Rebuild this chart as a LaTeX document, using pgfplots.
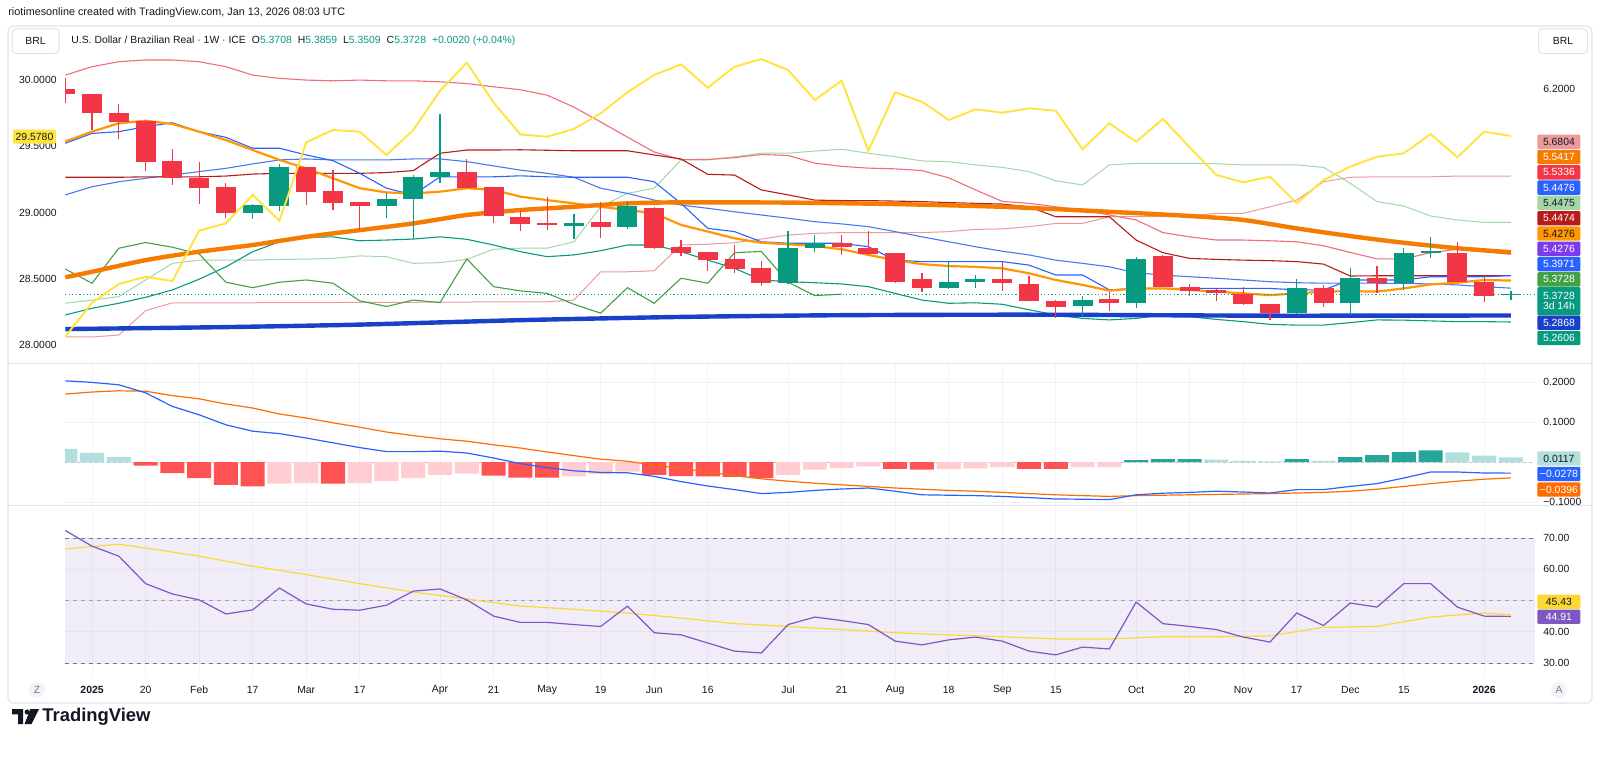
\documentclass[border=0pt]{standalone}
\usepackage{fontspec}
\setmainfont{Liberation Sans}
\usepackage{pgfplots}
\pgfplotsset{compat=1.18}
\usepackage{pgfplotstable}
\usepgfplotslibrary{fillbetween}

\definecolor{cred}{RGB}{242,54,69}
\definecolor{cgreen}{RGB}{8,153,129}
\definecolor{gridc}{RGB}{240,243,250}
\definecolor{framec}{RGB}{224,227,235}
\definecolor{txt}{RGB}{19,23,34}
\definecolor{bbup}{RGB}{240,110,120}
\definecolor{bbmid}{RGB}{75,120,240}
\definecolor{bblow}{RGB}{8,153,129}
\definecolor{tenk}{RGB}{41,98,255}
\definecolor{kij}{RGB}{183,28,28}
\definecolor{spanA}{RGB}{165,214,167}
\definecolor{spanB}{RGB}{239,154,154}
\definecolor{chik}{RGB}{67,160,71}
\definecolor{emac}{RGB}{255,152,0}
\definecolor{lmac}{RGB}{245,124,0}
\definecolor{vlmac}{RGB}{24,64,200}
\definecolor{yelc}{RGB}{255,228,60}
\definecolor{macdb}{RGB}{41,98,255}
\definecolor{macdo}{RGB}{255,109,0}
\definecolor{hdt}{RGB}{38,166,154}
\definecolor{hlt}{RGB}{178,223,219}
\definecolor{hdr}{RGB}{255,82,82}
\definecolor{hlr}{RGB}{255,205,210}
\definecolor{rsip}{RGB}{126,87,194}
\definecolor{rsiy}{RGB}{253,216,53}
\definecolor{dashc}{RGB}{120,123,134}
\definecolor{purp}{RGB}{124,58,237}

\newcommand{\tvf}{\fontsize{5.2}{6}\selectfont}
\newcommand{\tvh}{\fontsize{5.2}{6}\selectfont}
\newcommand{\tvhh}{\fontsize{5.4}{6}\selectfont}

% ---------- candles ----------
\pgfplotstableread{
k o h l c
-1 6.199 6.245 6.145 6.179
0 6.179 6.180 6.035 6.102
1 6.105 6.140 6.000 6.069
2 6.071 6.075 5.871 5.907
3 5.910 5.957 5.813 5.840
4 5.840 5.907 5.736 5.802
5 5.805 5.820 5.680 5.701
8 5.884 5.886 5.734 5.784
9 5.790 5.874 5.712 5.742
10 5.743 5.745 5.631 5.730
14 5.864 5.918 5.800 5.802
15 5.805 5.807 5.659 5.688
16 5.685 5.710 5.627 5.656
17 5.659 5.763 5.632 5.653
19 5.663 5.745 5.601 5.645
21 5.722 5.725 5.555 5.558
22 5.565 5.593 5.528 5.540
23 5.542 5.544 5.468 5.511
24 5.513 5.573 5.459 5.474
25 5.477 5.507 5.407 5.417
28 5.581 5.610 5.532 5.562
29 5.558 5.627 5.530 5.535
30 5.538 5.540 5.418 5.421
31 5.433 5.457 5.383 5.399
34 5.433 5.504 5.386 5.417
35 5.413 5.446 5.344 5.346
36 5.346 5.348 5.275 5.323
38 5.352 5.380 5.304 5.339
40 5.527 5.530 5.400 5.403
41 5.403 5.413 5.364 5.386
42 5.390 5.399 5.346 5.376
43 5.373 5.403 5.330 5.332
44 5.332 5.334 5.269 5.296
46 5.399 5.410 5.323 5.336
48 5.437 5.487 5.376 5.417
51 5.540 5.585 5.420 5.421
52 5.423 5.450 5.340 5.367
}\redc

\pgfplotstableread{
k o h l c
6 5.701 5.735 5.676 5.733
7 5.728 5.897 5.709 5.884
11 5.730 5.782 5.681 5.757
12 5.757 5.853 5.595 5.844
13 5.844 6.098 5.820 5.864
18 5.649 5.698 5.597 5.661
20 5.645 5.743 5.635 5.730
26 5.417 5.627 5.415 5.558
27 5.558 5.610 5.542 5.581
32 5.397 5.504 5.395 5.421
33 5.421 5.452 5.399 5.432
37 5.327 5.367 5.280 5.349
39 5.336 5.524 5.316 5.515
45 5.296 5.433 5.294 5.399
47 5.336 5.477 5.289 5.437
49 5.419 5.558 5.390 5.540
50 5.540 5.605 5.517 5.545
53 5.3708 5.3859 5.3509 5.3728
}\greenc

% ---------- indicators on price pane ----------
\pgfplotstableread{
k bbu bbm bbl tenkan kijun spa spb ema
-1 6.256 5.773 5.289 5.981 5.844 5.336 5.201 5.988
0 6.290 5.806 5.316 6.021 5.844 5.349 5.200 6.028
1 6.310 5.826 5.336 6.028 5.844 5.363 5.208 6.062
2 6.317 5.840 5.360 6.048 5.846 5.430 5.306 6.072
3 6.317 5.853 5.390 6.064 5.846 5.497 5.338 6.059
4 6.310 5.867 5.433 6.028 5.846 5.510 5.338 6.028
5 6.290 5.880 5.483 6.005 5.849 5.510 5.338 5.994
6 6.256 5.898 5.544 5.961 5.857 5.510 5.338 5.954
7 6.243 5.914 5.584 5.961 5.860 5.513 5.339 5.914
8 6.236 5.918 5.602 5.934 5.860 5.514 5.339 5.880
9 6.233 5.914 5.604 5.911 5.860 5.517 5.339 5.840
10 6.236 5.914 5.588 5.860 5.860 5.527 5.340 5.800
11 6.233 5.914 5.591 5.800 5.863 5.524 5.340 5.783
12 6.233 5.918 5.595 5.773 5.871 5.497 5.340 5.779
13 6.229 5.918 5.604 5.846 5.941 5.500 5.341 5.786
14 6.222 5.907 5.594 5.846 5.954 5.513 5.341 5.800
15 6.209 5.890 5.571 5.846 5.954 5.554 5.342 5.793
16 6.197 5.873 5.544 5.850 5.955 5.558 5.342 5.766
17 6.175 5.860 5.524 5.846 5.953 5.558 5.342 5.752
18 6.127 5.844 5.531 5.844 5.951 5.584 5.349 5.739
19 6.067 5.800 5.548 5.844 5.951 5.725 5.463 5.725
20 6.006 5.779 5.571 5.844 5.951 5.779 5.463 5.712
21 5.946 5.752 5.571 5.826 5.934 5.800 5.467 5.699
22 5.915 5.732 5.544 5.739 5.918 5.914 5.571 5.652
23 5.916 5.719 5.510 5.638 5.856 5.914 5.574 5.625
24 5.923 5.705 5.477 5.625 5.853 5.927 5.580 5.598
25 5.936 5.692 5.430 5.584 5.793 5.941 5.595 5.580
26 5.932 5.679 5.423 5.578 5.773 5.941 5.611 5.574
27 5.901 5.665 5.419 5.578 5.752 5.950 5.618 5.567
28 5.888 5.656 5.414 5.578 5.750 5.957 5.621 5.554
29 5.881 5.645 5.403 5.564 5.750 5.941 5.621 5.531
30 5.878 5.625 5.376 5.510 5.748 5.927 5.621 5.510
31 5.871 5.604 5.349 5.504 5.746 5.910 5.621 5.494
32 5.842 5.584 5.336 5.504 5.742 5.907 5.625 5.486
33 5.793 5.564 5.338 5.504 5.739 5.894 5.634 5.483
34 5.747 5.546 5.332 5.504 5.736 5.884 5.636 5.477
35 5.739 5.531 5.310 5.490 5.725 5.867 5.645 5.457
36 5.725 5.510 5.289 5.450 5.685 5.830 5.658 5.430
37 5.712 5.497 5.275 5.450 5.685 5.813 5.658 5.410
38 5.692 5.483 5.269 5.390 5.685 5.894 5.685 5.387
39 5.672 5.459 5.275 5.396 5.591 5.900 5.685 5.396
40 5.621 5.450 5.289 5.396 5.540 5.900 5.685 5.396
41 5.604 5.443 5.282 5.396 5.517 5.900 5.688 5.390
42 5.591 5.437 5.271 5.396 5.513 5.899 5.699 5.383
43 5.591 5.430 5.262 5.396 5.510 5.894 5.699 5.376
44 5.588 5.423 5.251 5.396 5.508 5.894 5.725 5.369
45 5.584 5.419 5.248 5.390 5.504 5.894 5.752 5.376
46 5.568 5.417 5.248 5.390 5.494 5.884 5.826 5.383
47 5.541 5.417 5.258 5.430 5.446 5.820 5.844 5.385
48 5.515 5.417 5.269 5.430 5.447 5.746 5.846 5.383
49 5.515 5.416 5.268 5.430 5.447 5.728 5.846 5.396
50 5.540 5.414 5.265 5.443 5.447 5.688 5.846 5.412
51 5.554 5.410 5.262 5.443 5.447 5.672 5.849 5.419
52 5.544 5.403 5.262 5.443 5.447 5.662 5.849 5.430
53 5.5336 5.3971 5.2606 5.4476 5.4474 5.662 5.849 5.4276
}\ind

\pgfplotstableread{
k v
-1 5.474
0 5.417
1 5.558
2 5.581
3 5.562
4 5.535
5 5.421
6 5.399
7 5.421
8 5.430
9 5.417
10 5.346
11 5.323
12 5.349
13 5.339
14 5.515
15 5.403
16 5.386
17 5.376
18 5.332
19 5.296
20 5.399
21 5.336
22 5.437
23 5.417
24 5.540
25 5.545
26 5.421
27 5.367
28 5.3728
}\chikt

\pgfplotstableread{
k v
-1 5.441
0 5.463
2 5.510
4 5.544
6 5.571
8 5.604
10 5.631
12 5.658
14 5.692
16 5.712
18 5.725
20 5.739
22 5.743
26 5.742
30 5.736
34 5.725
38 5.705
41 5.688
43 5.672
45 5.638
47 5.607
49 5.580
51 5.558
53 5.5417
}\lmat

\pgfplotstableread{
k v
-1 5.232
5 5.240
10 5.250
16 5.268
22 5.281
28 5.288
35 5.290
44 5.286
53 5.2868
}\vlmat

\pgfplotstableread{
k v
-1 28.063
0 28.319
1 28.460
2 28.515
3 28.483
4 28.863
5 28.918
6 29.132
7 28.938
8 29.530
9 29.623
10 29.610
11 29.434
12 29.623
13 29.919
14 30.131
15 29.829
16 29.589
17 29.572
18 29.630
19 29.749
20 29.907
21 30.038
22 30.118
23 29.942
24 30.100
25 30.158
26 30.075
27 29.849
28 29.995
29 29.466
30 29.907
31 29.836
32 29.698
33 29.779
34 29.753
35 29.786
36 29.768
37 29.477
38 29.673
39 29.534
40 29.706
41 29.492
42 29.283
43 29.228
44 29.270
45 29.069
46 29.245
47 29.346
48 29.421
49 29.447
50 29.592
51 29.417
52 29.610
53 29.578
}\yelt

% ---------- MACD ----------
\pgfplotstableread{
k macd sig
-1 0.203 0.170
0 0.199 0.175
1 0.193 0.178
2 0.173 0.177
3 0.139 0.166
4 0.118 0.158
5 0.093 0.145
6 0.077 0.135
7 0.071 0.120
8 0.060 0.110
9 0.048 0.098
10 0.036 0.087
11 0.026 0.075
12 0.026 0.066
13 0.027 0.058
14 0.0225 0.052
15 0.010 0.043
16 -0.004 0.035
17 -0.014 0.025
18 -0.022 0.016
19 -0.026 0.007
20 -0.027 0.002
21 -0.036 -0.008
22 -0.049 -0.016
23 -0.060 -0.025
24 -0.069 -0.034
25 -0.079 -0.042
26 -0.076 -0.048
27 -0.071 -0.053
28 -0.0675 -0.057
29 -0.065 -0.061
30 -0.073 -0.065
31 -0.082 -0.068
32 -0.083 -0.071
33 -0.084 -0.073
34 -0.086 -0.076
35 -0.089 -0.079
36 -0.0925 -0.082
37 -0.093 -0.084
38 -0.094 -0.086
39 -0.082 -0.084
40 -0.078 -0.083
41 -0.076 -0.082
42 -0.073 -0.081
43 -0.075 -0.080
44 -0.0775 -0.079
45 -0.069 -0.0775
46 -0.069 -0.076
47 -0.061 -0.073
48 -0.054 -0.068
49 -0.040 -0.061
50 -0.025 -0.054
51 -0.025 -0.048
52 -0.0275 -0.043
53 -0.0278 -0.0396
}\macdt

\pgfplotstableread{
k v
-1 0.033
0 0.023
1 0.013
42 0.006
43 0.003
44 0.0015
46 0.003
51 0.024
52 0.016
53 0.0117
}\hLT
\pgfplotstableread{
k v
39 0.005
40 0.007
41 0.007
45 0.007
47 0.012
48 0.017
49 0.025
50 0.029
}\hDT
\pgfplotstableread{
k v
2 -0.009
3 -0.028
4 -0.040
5 -0.057
6 -0.061
9 -0.054
15 -0.034
16 -0.039
17 -0.039
21 -0.032
22 -0.035
23 -0.036
24 -0.037
25 -0.040
30 -0.017
31 -0.019
35 -0.017
36 -0.017
}\hDR
\pgfplotstableread{
k v
7 -0.054
8 -0.053
10 -0.053
11 -0.048
12 -0.040
13 -0.032
14 -0.029
18 -0.036
19 -0.030
20 -0.024
26 -0.032
27 -0.019
28 -0.015
29 -0.011
32 -0.018
33 -0.016
34 -0.013
37 -0.013
38 -0.013
}\hLR

% ---------- RSI ----------
\pgfplotstableread{
k v
-1 72.4
0 67.4
1 64.2
2 55.4
3 52.1
4 50.2
5 45.7
6 47.0
7 54.0
8 48.9
9 47.2
10 46.9
11 48.5
12 53.0
13 53.7
14 50.2
15 45.0
16 43.0
17 43.0
18 42.3
19 41.7
20 48.2
21 39.7
22 39.0
23 36.4
24 33.8
25 33.2
26 42.3
27 44.7
28 43.6
29 42.3
30 37.0
31 35.8
32 37.4
33 38.3
34 37.0
35 33.8
36 32.6
37 35.1
38 34.5
39 49.5
40 42.6
41 41.7
42 40.7
43 38.3
44 36.7
45 46.0
46 42.0
47 49.2
48 47.9
49 55.4
50 55.4
51 47.9
52 45.0
53 44.91
}\rsit

\pgfplotstableread{
k v
-1 66.5
1 68.0
2 66.8
4 64.2
6 61.0
8 58.3
10 55.4
12 52.7
14 50.5
16 48.2
18 47.2
20 46.0
22 44.4
24 42.6
26 41.7
28 40.7
30 39.7
32 39.0
34 38.4
36 37.7
38 37.7
40 38.4
42 38.4
44 38.7
46 41.4
48 41.7
50 44.7
52 46.0
53 45.43
}\rsimat

\pgfplotsset{
  pane/.style={scale only axis, width=735pt, xmin=-1.01, xmax=53.9,
    anchor=north west,
    axis line style={draw=none}, major tick length=0pt,
    xtick={0,2,4,6,8,10,13,15,17,19,21,23,26,28,30,32,34,36,39,41,43,45,47,49,52},
    xmajorgrids, ymajorgrids, grid style={gridc, line width=0.5pt},
    yticklabel pos=right,
    yticklabel style={font=\tvf, text=txt, anchor=west, inner sep=0pt, xshift=4pt},
    /pgf/number format/assume math mode=true},
  wick/.style={draw=none, mark=none, error bars/.cd, y dir=both, y explicit, error mark=none,
    error bar style={draw=#1, line width=0.6pt}},
  body/.style={draw=none, mark=none, error bars/.cd, y dir=both, y explicit, error mark=none,
    error bar style={draw=#1, line width=10pt}},
}

\newcommand{\rtag}[4]{\node[fill=#2, text=#3, font=\tvf, inner sep=0pt, minimum width=21.5pt, minimum height=7.2pt, anchor=west, rounded corners=0.6pt] at (768.5pt,{-0.5pt*#1}) {#4};}

\begin{document}
\begin{tikzpicture}
\path[fill=white] (0,0) rectangle (800pt,-378pt);

% ===== price pane =====
\begin{axis}[pane, at={(32.5pt,-13.5pt)}, height=168pt,
  ymin=5.0952, ymax=6.45, ytick={5.2,5.4,5.6,5.8,6.0,6.2},
  yticklabels={,,,,,6.2000},
  xticklabels={}]
  % Bollinger fill
  \addplot[draw=none, name path=bu] table[x=k,y=bbu]{\ind};
  \addplot[draw=none, name path=bl] table[x=k,y=bbl]{\ind};
  \addplot[fill=tenk, fill opacity=0.06] fill between[of=bu and bl];
  % cloud
  \addplot[draw=none, name path=sa] table[x=k,y=spa]{\ind};
  \addplot[draw=none, name path=sb] table[x=k,y=spb]{\ind};
  \addplot fill between[of=sa and sb, split,
     every segment no 0/.style={fill=chik, fill opacity=0.13},
     every segment no 1/.style={fill=cred, fill opacity=0.10}];
  \addplot[spanA, line width=0.5pt] table[x=k,y=spa]{\ind};
  \addplot[spanB, line width=0.5pt] table[x=k,y=spb]{\ind};
  % lines
  \addplot[bbup, line width=0.55pt] table[x=k,y=bbu]{\ind};
  \addplot[bbmid, line width=0.55pt] table[x=k,y=bbm]{\ind};
  \addplot[bblow, line width=0.55pt] table[x=k,y=bbl]{\ind};
  \addplot[kij, line width=0.55pt] table[x=k,y=kijun]{\ind};
  \addplot[tenk, line width=0.55pt] table[x=k,y=tenkan]{\ind};
  \addplot[chik, line width=0.55pt] table[x=k,y=v]{\chikt};
  \addplot[emac, line width=1.1pt] table[x=k,y=ema]{\ind};
  \addplot[lmac, line width=2.2pt, smooth, tension=0.4] table[x=k,y=v]{\lmat};
  \addplot[vlmac, line width=2.2pt, smooth, tension=0.4] table[x=k,y=v]{\vlmat};
  % last price line
  \addplot[cgreen, line width=0.5pt, dash pattern=on 0.6pt off 1.2pt] coordinates {(-1.01,5.3728) (53.9,5.3728)};
  % candles: wicks
  \addplot[wick=cred]
    table[x=k, y expr={(\thisrow{h}+\thisrow{l})/2}, y error expr={(\thisrow{h}-\thisrow{l})/2}]{\redc};
  \addplot[wick=cgreen]
    table[x=k, y expr={(\thisrow{h}+\thisrow{l})/2}, y error expr={(\thisrow{h}-\thisrow{l})/2}]{\greenc};
  % candles: bodies
  \addplot[body=cred]
    table[x=k, y expr={(\thisrow{o}+\thisrow{c})/2}, y error expr={max(abs(\thisrow{o}-\thisrow{c})/2,0.0016)}]{\redc};
  \addplot[body=cgreen]
    table[x=k, y expr={(\thisrow{o}+\thisrow{c})/2}, y error expr={max(abs(\thisrow{o}-\thisrow{c})/2,0.0016)}]{\greenc};
\end{axis}

% ===== left scale overlay (yellow series) =====
\begin{axis}[scale only axis, width=735pt, height=168pt, at={(32.5pt,-13.5pt)}, anchor=north west,
  xmin=-1.01, xmax=53.9, ymin=27.864, ymax=30.4,
  axis line style={draw=none}, major tick length=0pt, xtick=\empty,
  ytick={28,28.5,29,29.5,30}, yticklabel pos=left,
  yticklabel style={font=\tvf, text=txt, anchor=east, inner sep=0pt, xshift=-4pt,
    /pgf/number format/fixed, /pgf/number format/fixed zerofill, /pgf/number format/precision=4},
  /pgf/number format/assume math mode=true]
  \addplot[yelc, line width=0.95pt] table[x=k,y=v]{\yelt};
\end{axis}

% ===== MACD pane =====
\begin{axis}[pane, at={(32.5pt,-182pt)}, height=70.5pt,
  ymin=-0.1075, ymax=0.245, ytick={-0.1,0,0.1,0.2},
  yticklabels={−0.1000,,0.1000,0.2000}, xticklabels={}]
  \addplot[dashc!45, line width=0.4pt, dash pattern=on 1.5pt off 1.5pt] coordinates {(-1.01,0) (53.9,0)};
  \addplot[ybar, bar width=0.9, bar shift=0pt, fill=hlt, draw=none] table[x=k,y=v]{\hLT};
  \addplot[ybar, bar width=0.9, bar shift=0pt, fill=hdt, draw=none] table[x=k,y=v]{\hDT};
  \addplot[ybar, bar width=0.9, bar shift=0pt, fill=hdr, draw=none] table[x=k,y=v]{\hDR};
  \addplot[ybar, bar width=0.9, bar shift=0pt, fill=hlr, draw=none] table[x=k,y=v]{\hLR};
  \addplot[macdo, line width=0.6pt] table[x=k,y=sig]{\macdt};
  \addplot[macdb, line width=0.6pt] table[x=k,y=macd]{\macdt};
\end{axis}

% ===== RSI pane =====
\begin{axis}[pane, at={(32.5pt,-253pt)}, height=85.5pt,
  ymin=25.52, ymax=80.24, ytick={30,40,50,60,70},
  yticklabels={30.00,40.00,,60.00,70.00},
  xticklabels={\textbf{2025},20,Feb,17,Mar,17,Apr,21,May,19,Jun,16,Jul,21,Aug,18,Sep,15,Oct,20,Nov,17,Dec,15,\textbf{2026}},
  xticklabel style={font=\tvf, text=txt, anchor=center, inner sep=0pt, yshift=-6.5pt}]
  \addplot[draw=none, fill=rsip, fill opacity=0.1] coordinates {(-1.01,30) (53.9,30) (53.9,70) (-1.01,70) (-1.01,30)};
  \addplot[dashc, line width=0.4pt, dash pattern=on 2pt off 2pt] coordinates {(-1.01,70) (53.9,70)};
  \addplot[dashc!70, line width=0.4pt, dash pattern=on 2pt off 2pt] coordinates {(-1.01,50) (53.9,50)};
  \addplot[dashc, line width=0.4pt, dash pattern=on 2pt off 2pt] coordinates {(-1.01,30) (53.9,30)};
  \addplot[rsiy, line width=0.6pt] table[x=k,y=v]{\rsimat};
  \addplot[rsip, line width=0.6pt] table[x=k,y=v]{\rsit};
\end{axis}

% ===== frame, separators =====
\draw[framec, line width=0.6pt, rounded corners=3pt] (4pt,-13pt) rectangle (796pt,-351.5pt);
\draw[framec, line width=0.6pt] (4pt,-181.75pt) -- (796pt,-181.75pt);
\draw[framec, line width=0.6pt] (4pt,-252.75pt) -- (796pt,-252.75pt);

% ===== header texts =====
\node[anchor=west, font=\tvhh, text=txt, inner sep=0pt] at (4pt,-6.5pt) {riotimesonline created with TradingView.com, Jan 13, 2026 08:03 UTC};
\node[anchor=west, font=\tvh, text=txt, inner sep=0pt] at (35.5pt,-20.5pt) {U.S. Dollar / Brazilian Real · 1W · ICE\hspace{3pt}O\textcolor{cgreen}{5.3708}\hspace{3pt}H\textcolor{cgreen}{5.3859}\hspace{3pt}L\textcolor{cgreen}{5.3509}\hspace{3pt}C\textcolor{cgreen}{5.3728}\hspace{3pt}\textcolor{cgreen}{+0.0020 (+0.04\%)}};
\node[draw=framec, fill=white, rounded corners=2pt, line width=0.5pt, minimum width=23.5pt, minimum height=12.5pt, inner sep=0pt, font=\tvh, text=txt] at (17.75pt,-20.5pt) {BRL};
\node[draw=framec, fill=white, rounded corners=2pt, line width=0.5pt, minimum width=24.5pt, minimum height=12.5pt, inner sep=0pt, font=\tvh, text=txt] at (781.5pt,-20.5pt) {BRL};

% ===== right tags =====
\rtag{141.7}{spanB}{txt}{5.6804}
\rtag{157.0}{lmac}{white}{5.5417}
\rtag{172.3}{cred}{white}{5.5336}
\rtag{187.6}{tenk}{white}{5.4476}
\rtag{202.9}{spanA}{txt}{5.4475}
\rtag{218.2}{kij}{white}{5.4474}
\rtag{233.5}{emac}{txt}{5.4276}
\rtag{248.8}{purp}{white}{5.4276}
\rtag{264.1}{tenk}{white}{5.3971}
\rtag{279.4}{chik}{white}{5.3728}
\node[fill=cgreen, text=white, font=\tvf, inner sep=0pt, minimum width=21.5pt, minimum height=14.2pt, anchor=west, rounded corners=0.6pt, align=center] at (768.5pt,-150.6pt) {5.3728\\[-0.8pt]3d 14h};
\rtag{322.7}{vlmac}{white}{5.2868}
\rtag{338.0}{cgreen}{white}{5.2606}
% MACD tags
\rtag{458.5}{hlt}{txt}{0.0117}
\rtag{474.0}{macdb}{white}{−0.0278}
\rtag{489.5}{macdo}{white}{−0.0396}
% RSI tags
\rtag{601.7}{rsiy}{txt}{45.43}
\rtag{616.7}{rsip}{white}{44.91}
% left yellow tag
\node[fill=yelc, text=txt, font=\tvf, inner sep=0pt, minimum width=21.5pt, minimum height=7pt, rounded corners=0.6pt] at (17.25pt,-68.3pt) {29.5780};

% ===== bottom controls =====
\node[circle, fill=gridc, minimum size=8pt, inner sep=0pt, font=\tvf, text=dashc] at (18.5pt,-345pt) {Z};
\node[circle, fill=gridc, minimum size=8pt, inner sep=0pt, font=\tvf, text=dashc] at (779.5pt,-345pt) {A};

% ===== TradingView logo =====
\fill[txt] (6pt,-354.5pt) -- (11.5pt,-354.5pt) -- (11.5pt,-362pt) -- (9pt,-362pt) -- (9pt,-357.2pt) -- (6pt,-357.2pt) -- cycle;
\fill[txt] (13.6pt,-356pt) circle (1.3pt);
\fill[txt] (15.2pt,-354.5pt) -- (19.5pt,-354.5pt) -- (15.8pt,-362pt) -- (12.3pt,-362pt) -- cycle;
\node[anchor=west, inner sep=0pt, text=txt, font=\fontsize{9.2}{10}\selectfont\bfseries] at (21pt,-358.4pt) {TradingView};
\end{tikzpicture}
\end{document}
